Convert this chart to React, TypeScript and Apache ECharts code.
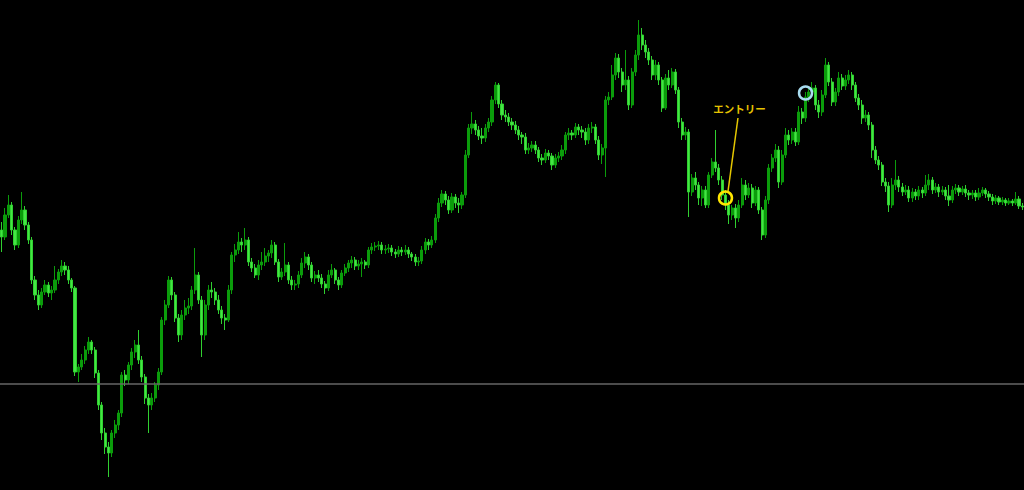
import React, { useEffect, useRef } from "react";
import * as echarts from "echarts";

// OHLC rows: [open, close, low, high] in price points
const candles: number[][] = [
  [260,253,238,268],[253,275,250,282],[275,285,272,295],[285,260,255,288],[260,245,240,263],
  [245,270,242,274],[270,280,266,298],[280,265,260,284],[265,250,246,268],[250,210,206,253],
  [210,195,190,214],[195,185,180,200],[185,198,182,202],[198,205,195,210],[205,197,193,208],
  [197,200,190,204],[200,210,197,224],[210,218,206,221],[218,224,214,230],[224,220,215,228],
  [220,210,206,224],[210,202,198,212],[202,118,114,204],[118,123,108,126],[123,130,120,136],
  [130,140,126,144],[140,148,136,153],[148,140,136,150],[140,117,112,143],[117,85,80,120],
  [85,57,50,88],[57,43,36,62],[43,37,13,48],[37,57,33,60],[57,65,52,70],
  [65,77,60,80],[77,115,73,118],[115,110,104,120],[110,125,106,128],[125,138,120,142],
  [138,145,132,150],[145,130,126,160],[130,113,108,134],[113,92,86,116],[92,85,57,96],
  [85,92,80,97],[92,105,88,108],[105,118,100,122],[118,170,115,173],[170,185,165,190],
  [185,210,182,214],[210,195,190,213],[195,172,168,198],[172,155,148,176],[155,175,150,180],
  [175,182,170,190],[182,184,176,192],[184,200,180,204],[200,215,196,242],[215,190,186,218],
  [190,155,133,194],[155,185,150,190],[185,200,180,205],[200,198,192,208],[198,190,185,202],
  [190,180,176,195],[180,172,166,184],[172,170,160,176],[170,200,168,205],[200,235,196,238],
  [235,240,228,246],[240,248,236,258],[248,245,238,252],[245,250,240,262],[250,228,224,253],
  [228,222,218,232],[222,215,212,226],[215,225,210,230],[225,228,220,238],[228,234,224,242],
  [234,237,228,240],[237,245,232,250],[245,228,225,248],[228,213,208,231],[213,218,210,222],
  [218,225,214,247],[225,210,206,228],[210,205,200,214],[205,206,200,210],[206,215,202,219],
  [215,227,212,232],[227,233,222,238],[233,225,220,236],[225,212,208,228],[212,215,206,219],
  [215,212,208,220],[212,206,202,216],[206,202,196,209],[202,215,199,220],[215,220,212,226],
  [220,210,206,222],[210,205,200,213],[205,217,202,220],[217,222,214,226],[222,227,218,230],
  [227,230,222,234],[230,224,220,233],[224,226,220,230],[226,228,213,232],[228,225,221,230],
  [225,240,222,243],[240,243,236,247],[243,244,239,248],[244,245,240,249],[245,240,236,248],
  [240,241,236,245],[241,242,237,246],[242,238,234,245],[238,236,232,241],[236,240,233,244],
  [240,238,234,243],[238,240,235,245],[240,236,232,243],[236,233,229,238],[233,228,224,236],
  [228,229,224,233],[229,240,226,244],[240,248,236,252],[248,245,240,251],[245,250,242,254],
  [250,272,247,276],[272,287,268,292],[287,296,283,300],[296,290,285,299],[290,280,276,294],
  [280,293,277,297],[293,287,282,296],[287,285,277,292],[285,295,281,298],[295,335,292,340],
  [335,362,332,366],[362,366,356,378],[366,360,355,370],[360,354,350,364],[354,352,346,362],
  [352,362,348,366],[362,368,358,372],[368,390,364,394],[390,405,386,408],[405,386,382,407],
  [386,375,370,390],[375,373,368,380],[373,368,364,377],[368,365,360,372],[365,360,356,369],
  [360,355,350,364],[355,353,346,358],[353,340,336,357],[340,342,336,347],[342,345,338,349],
  [345,340,336,349],[340,332,328,343],[332,330,325,336],[330,337,327,341],[337,334,330,340],
  [334,325,320,337],[325,332,322,336],[332,334,328,338],[334,340,330,345],[340,355,336,358],
  [355,357,350,362],[357,355,350,360],[355,363,352,367],[363,360,355,366],[360,358,352,364],
  [358,350,345,362],[350,362,346,366],[362,363,357,368],[363,350,346,366],[350,335,330,354],
  [335,342,326,346],[342,390,313,394],[390,393,385,398],[393,415,390,425],[415,432,410,437],
  [432,418,412,436],[418,405,398,422],[405,410,400,440],[410,385,380,414],[385,418,382,422],
  [418,435,414,440],[435,455,430,470],[455,445,440,462],[445,438,432,450],[438,430,425,442],
  [430,415,410,434],[415,425,410,430],[425,410,405,428],[410,382,378,413],[382,412,380,416],
  [412,405,400,420],[405,418,402,422],[418,400,396,421],[400,368,362,403],[368,355,350,372],
  [355,358,350,363],[358,298,273,361],[298,312,294,316],[312,305,300,318],[305,292,285,308],
  [292,300,284,304],[300,285,282,304],[285,315,282,318],[315,328,312,332],[328,322,318,360],
  [322,310,305,326],[310,295,290,314],[295,285,280,300],[285,275,266,290],[275,282,270,285],
  [282,272,262,286],[272,285,268,290],[285,305,282,312],[305,295,290,310],[295,302,292,307],
  [302,287,282,306],[287,300,284,304],[300,280,276,303],[280,255,250,283],[255,290,252,294],
  [290,322,286,326],[322,332,318,336],[332,340,328,346],[340,308,302,344],[308,335,305,340],
  [335,355,332,362],[355,350,345,360],[350,358,346,362],[358,348,344,362],[348,378,345,384],
  [378,372,366,382],[372,393,368,398],[393,398,388,404],[398,402,394,408],[402,385,380,405],
  [385,378,372,390],[378,395,374,400],[395,425,392,432],[425,408,404,428],[408,388,384,412],
  [388,398,384,402],[398,412,394,418],[412,404,400,416],[404,410,400,415],[410,415,406,420],
  [415,405,400,418],[405,392,388,408],[392,385,380,396],[385,372,366,390],[372,375,368,380],
  [375,365,360,378],[365,340,332,368],[340,330,326,344],[330,325,320,334],[325,308,304,328],
  [308,304,298,312],[304,285,278,308],[285,305,282,312],[305,310,300,330],[310,303,298,314],
  [303,298,294,307],[298,300,295,305],[300,292,288,304],[292,298,288,302],[298,294,290,301],
  [294,300,290,304],[300,297,292,303],[297,305,294,315],[305,310,300,316],[310,300,296,313],
  [300,303,297,307],[303,298,293,306],[298,300,295,304],[300,294,290,303],[294,290,284,305],
  [290,300,287,304],[300,302,296,306],[302,298,294,305],[298,301,295,304],[301,297,293,305],
  [297,295,290,300],[295,297,291,300],[297,293,289,300],[293,297,290,302],[297,300,294,303],
  [300,296,292,302],[296,293,289,299],[293,289,285,296],[289,292,286,295],[292,288,285,294],
  [288,290,285,293],[290,287,284,292],[287,289,285,292],[289,287,284,291],[287,291,285,298],
  [291,284,281,294],[284,283,280,287]
];

const categories: string[] = candles.map((_, i) => String(i + 1));

// Horizontal reference level (price points)
const levelLine = 106;

// Annotations: [candle index, price]
const entryPoint: number[] = [217, 292];
const exitPoint: number[] = [241, 397];
const entryLabel = "エントリー";

export default function App() {
  const ref = useRef<HTMLDivElement>(null);

  useEffect(() => {
    if (!ref.current) return;
    const chart = echarts.init(ref.current, null, { renderer: "svg" });
    chart.setOption({
      animation: false,
      backgroundColor: "#000000",
      grid: { left: 0, right: 0, top: 0, bottom: 0 },
      xAxis: {
        type: "category",
        data: categories,
        boundaryGap: true,
        show: false,
      },
      yAxis: {
        type: "value",
        min: 0,
        max: 490,
        show: false,
        splitLine: { show: false },
      },
      series: [
        {
          type: "candlestick",
          data: candles,
          barWidth: 2.6,
          itemStyle: {
            color: "#0b9c0b",
            color0: "#44e644",
            borderColor: "#0b9c0b",
            borderColor0: "#30d030",
            borderWidth: 1,
          },
          markLine: {
            silent: true,
            symbol: "none",
            label: { show: false },
            lineStyle: { color: "#666666", width: 1.5, type: "solid" },
            data: [{ yAxis: levelLine }],
          },
        },
      ],
    });

    const p1 = chart.convertToPixel({ gridIndex: 0 }, entryPoint) as number[];
    const p2 = chart.convertToPixel({ gridIndex: 0 }, exitPoint) as number[];
    chart.setOption({
      graphic: [
        {
          type: "circle",
          shape: { cx: p1[0], cy: p1[1], r: 6.5 },
          style: { fill: "none", stroke: "#ffe600", lineWidth: 2.5 },
          z: 100,
        },
        {
          type: "line",
          shape: { x1: p1[0] + 2.5, y1: p1[1] - 6.5, x2: p1[0] + 12.5, y2: p1[1] - 80 },
          style: { stroke: "#e6c800", lineWidth: 1.5 },
          z: 100,
        },
        {
          type: "text",
          x: p1[0] + 14,
          y: p1[1] - 90,
          style: {
            text: entryLabel,
            fill: "#e6c300",
            font: "bold 10.5px 'Noto Sans CJK JP'",
            align: "center",
            verticalAlign: "middle",
          },
          z: 100,
        },
        {
          type: "circle",
          shape: { cx: p2[0], cy: p2[1], r: 6.5 },
          style: { fill: "none", stroke: "#a8dcf0", lineWidth: 2.5 },
          z: 100,
        },
      ],
    });

    return () => chart.dispose();
  }, []);

  return (
    <div
      ref={ref}
      style={{
        position: "fixed",
        left: 0,
        top: 0,
        width: 1024,
        height: 490,
        background: "#000000",
      }}
    />
  );
}
